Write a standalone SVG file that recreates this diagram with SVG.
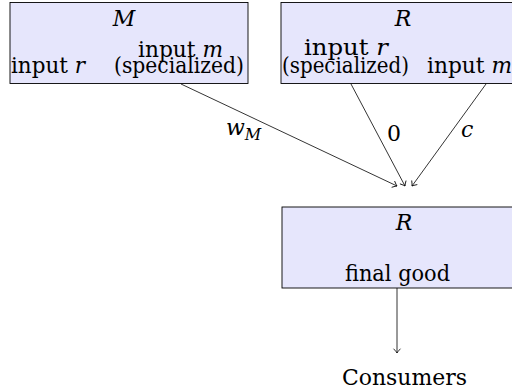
<svg xmlns="http://www.w3.org/2000/svg" width="512" height="389" viewBox="0 0 512 389">
<defs>
<marker id="to" markerUnits="userSpaceOnUse" markerWidth="10" markerHeight="10" viewBox="-6 -5 8 10" refX="0" refY="0" orient="auto">
<path d="M -4,-3.2 Q -1.2,-0.6 0,0 Q -1.2,0.6 -4,3.2" fill="none" stroke="#000" stroke-width="0.8" stroke-linecap="round"/>
</marker>
</defs>
<style>
.box{fill:#e6e6fc;stroke:#000;stroke-width:0.9}
.c{stroke:#000;stroke-width:0.8;fill:none;marker-end:url(#to)}
</style>
<g font-family="'DejaVu Serif', 'Liberation Serif', serif" font-size="22" fill="#000">
<g id="nodeM">
<rect class="box" x="10" y="2.5" width="238" height="81"/>
<text font-style="italic" x="124" y="26" text-anchor="middle">M</text>
<text x="11" y="73" textLength="74" lengthAdjust="spacingAndGlyphs">input <tspan font-style="italic">r</tspan></text>
<text x="138" y="57" textLength="85" lengthAdjust="spacingAndGlyphs">input <tspan font-style="italic">m</tspan></text>
<text x="114" y="73" textLength="130" lengthAdjust="spacingAndGlyphs">(specialized)</text>
</g>
<g id="nodeR">
<rect class="box" x="281" y="2.5" width="234" height="81"/>
<text font-style="italic" x="403" y="26" text-anchor="middle">R</text>
<text x="304" y="55" textLength="84" lengthAdjust="spacingAndGlyphs">input <tspan font-style="italic">r</tspan></text>
<text x="282" y="73" textLength="127" lengthAdjust="spacingAndGlyphs">(specialized)</text>
<text x="427" y="73" textLength="85" lengthAdjust="spacingAndGlyphs">input <tspan font-style="italic">m</tspan></text>
</g>
<g id="nodeRfinal">
<rect class="box" x="282" y="207" width="233" height="81"/>
<text font-style="italic" x="404" y="230" text-anchor="middle">R</text>
<text x="345" y="281" textLength="105" lengthAdjust="spacingAndGlyphs">final good</text>
</g>
<g id="nodeConsumers">
<text x="342" y="385" textLength="125" lengthAdjust="spacingAndGlyphs">Consumers</text>
</g>
<g id="connectors">
<line class="c" x1="181" y1="84" x2="397" y2="186"/>
<line class="c" x1="351" y1="84" x2="405" y2="186"/>
<line class="c" x1="486" y1="84" x2="412" y2="186"/>
<line class="c" x1="397" y1="288" x2="397" y2="353"/>
<text x="226" y="135"><tspan font-style="italic">w</tspan><tspan font-size="16" font-style="italic" dy="5">M</tspan></text>
<text x="387" y="141">0</text>
<text font-style="italic" x="461" y="137">c</text>
</g>
</g>
</svg>
